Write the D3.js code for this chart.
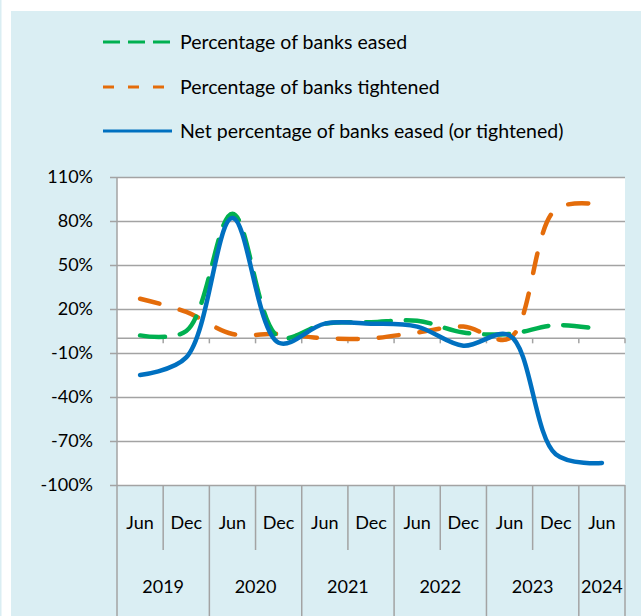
<!DOCTYPE html>
<html>
<head>
<meta charset="utf-8">
<script src="https://cdn.jsdelivr.net/npm/d3@7"></script>
<style>
  html, body { margin: 0; padding: 0; background: #ffffff; }
  svg { display: block; }
  text { font-family: Lato, "Open Sans", sans-serif; fill: #000; }
</style>
</head>
<body>
<svg id="chart" width="641" height="616"></svg>
<script>
// ---- data ----
const periods = ["Jun","Dec","Jun","Dec","Jun","Dec","Jun","Dec","Jun","Dec","Jun"];
const years = ["2019","2020","2021","2022","2023","2024"];
const yearSpans = [2, 2, 2, 2, 2, 1];
const eased = [2, 5, 85, 1, 10, 11, 12, 4, 3, 9, 6];
const tightened = [27, 18, 3, 3, 0, 0, 4, 8, 0, 88, 91];
const net = [-25, -13, 82, -3, 10, 10, 8, -5, 2, -79, -85];
const yTicks = [-100, -70, -40, -10, 20, 50, 80, 110];
const seriesNames = ["Percentage of banks eased", "Percentage of banks tightened", "Net percentage of banks eased (or tightened)"];

// ---- layout ----
const W = 641, H = 616;
const plot = { left: 117, right: 625, top: 177, bottom: 485 };
const svg = d3.select("#chart");

svg.append("rect").attr("x", 11).attr("y", 11).attr("width", W - 11).attr("height", H - 11).attr("fill", "#DAEEF3");
svg.append("rect").attr("x", 0).attr("y", 0).attr("width", 1.5).attr("height", H).attr("fill", "#DAEEF3");
svg.append("rect").attr("x", plot.left).attr("y", plot.top)
  .attr("width", plot.right - plot.left).attr("height", plot.bottom - plot.top).attr("fill", "#ffffff");

const x = d3.scaleBand().domain(d3.range(periods.length)).range([plot.left, plot.right]).padding(0);
const y = d3.scaleLinear().domain([-100, 110]).range([plot.bottom, plot.top]);
const cx = i => x(i) + x.bandwidth() / 2;
const gridColor = "#A3A3A3";

// gridlines + y axis
const yAxis = d3.axisLeft(y).tickValues(yTicks).tickFormat(d => d + "%")
  .tickSize(-(plot.right - plot.left)).tickPadding(24);
const gy = svg.append("g").attr("transform", `translate(${plot.left},0)`).call(yAxis);
gy.select(".domain").remove();
gy.selectAll(".tick line").attr("stroke", gridColor).attr("stroke-width", 1.5)
  .attr("x1", -7);
gy.selectAll(".tick text").attr("font-size", 18).attr("fill", "#000");
svg.append("line").attr("x1", plot.left).attr("x2", plot.left).attr("y1", plot.top).attr("y2", plot.bottom)
  .attr("stroke", gridColor).attr("stroke-width", 1.5);

// zero axis with ticks at category boundaries
const y0 = y(0);
svg.append("line").attr("x1", plot.left).attr("x2", plot.right).attr("y1", y0).attr("y2", y0)
  .attr("stroke", gridColor).attr("stroke-width", 1.5);
const bounds = d3.range(periods.length + 1).map(i => i < periods.length ? x(i) : plot.right);
svg.append("g").selectAll("line").data(bounds.slice(1)).join("line")
  .attr("x1", d => d).attr("x2", d => d).attr("y1", y0).attr("y2", y0 + 5)
  .attr("stroke", gridColor).attr("stroke-width", 1.5);

// multi-level category axis below plot
const catG = svg.append("g");
let idx = 0;
const yearStarts = [];
yearSpans.forEach(s => { yearStarts.push(idx); idx += s; });
yearStarts.push(periods.length);
bounds.forEach((b, i) => {
  const isYear = yearStarts.includes(i);
  catG.append("line").attr("x1", b).attr("x2", b).attr("y1", plot.bottom)
    .attr("y2", isYear ? H : 550).attr("stroke", gridColor).attr("stroke-width", 1.5);
});
catG.selectAll("text.per").data(periods).join("text").attr("class", "per")
  .attr("x", (d, i) => cx(i)).attr("y", 523).attr("dy", "0.35em")
  .attr("text-anchor", "middle").attr("font-size", 18).text(d => d);
catG.selectAll("text.yr").data(years).join("text").attr("class", "yr")
  .attr("x", (d, i) => (bounds[yearStarts[i]] + bounds[yearStarts[i + 1]]) / 2)
  .attr("y", 587).attr("dy", "0.35em")
  .attr("text-anchor", "middle").attr("font-size", 18).text(d => d);

// lines
const line = d3.line().x((d, i) => cx(i)).y(d => y(d)).curve(d3.curveCatmullRom.alpha(0.5));
const colors = ["#00B050", "#E46C0A", "#0070C0"];
svg.append("path").datum(tightened).attr("d", line).attr("fill", "none")
  .attr("stroke", colors[1]).attr("stroke-width", 4.5).attr("stroke-linecap", "round")
  .attr("stroke-dasharray", "20 21");
svg.append("path").datum(eased).attr("d", line).attr("fill", "none")
  .attr("stroke", colors[0]).attr("stroke-width", 4.5).attr("stroke-linecap", "round")
  .attr("stroke-dasharray", "25 15");
svg.append("path").datum(net).attr("d", line).attr("fill", "none")
  .attr("stroke", colors[2]).attr("stroke-width", 4.5).attr("stroke-linecap", "round");

// legend
const legY = [42, 87, 131];
const legDash = ["17 8", "11 14", null];
const legEnd = [170, 166, 172];
seriesNames.forEach((name, i) => {
  const l = svg.append("line").attr("x1", 103).attr("x2", legEnd[i]).attr("y1", legY[i]).attr("y2", legY[i])
    .attr("stroke", colors[i]).attr("stroke-width", 3);
  if (legDash[i]) l.attr("stroke-dasharray", legDash[i]);
  svg.append("text").attr("x", 180).attr("y", legY[i]).attr("dy", "0.35em")
    .attr("font-size", 19.5).text(name);
});
</script>
</body>
</html>
